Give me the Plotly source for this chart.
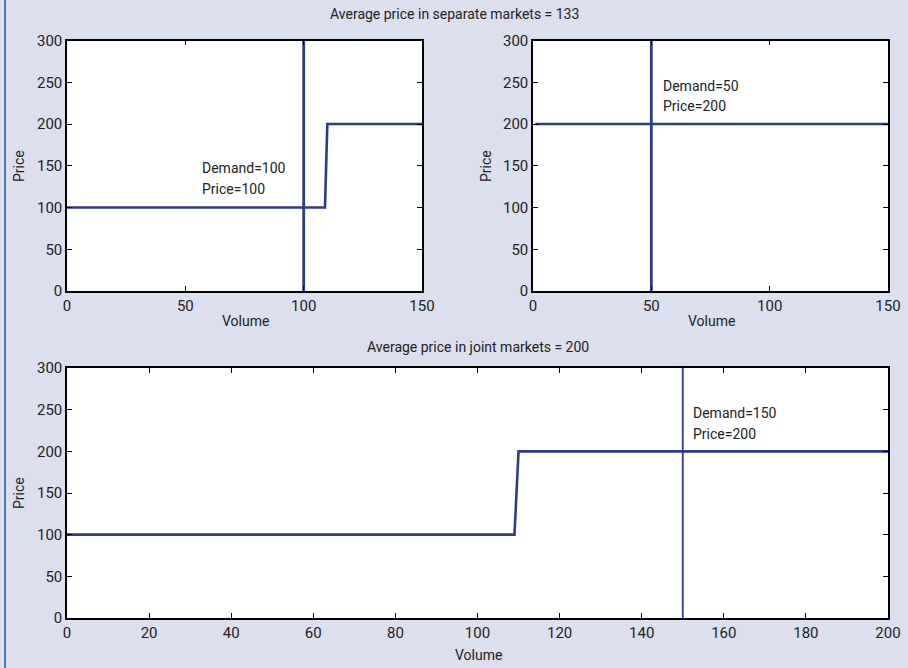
import plotly.graph_objects as go

# ---- data ----
sep1_supply_x = [0, 109, 110, 150]
sep1_supply_y = [100, 100, 200, 200]
sep1_demand = 100
sep1_label = ["Demand=100", "Price=100"]

sep2_supply_x = [1, 150]
sep2_supply_y = [200, 200]
sep2_demand = 50
sep2_label = ["Demand=50", "Price=200"]

joint_supply_x = [0, 109, 110, 200]
joint_supply_y = [100, 100, 200, 200]
joint_demand = 150
joint_label = ["Demand=150", "Price=200"]

price_range = [0, 300]
price_ticks = [0, 50, 100, 150, 200, 250, 300]
sep_vol_ticks = [0, 50, 100, 150]
joint_vol_ticks = [0, 20, 40, 60, 80, 100, 120, 140, 160, 180, 200]

title_sep = "Average price in separate markets = 133"
title_joint = "Average price in joint markets = 200"

# ---- style ----
W, H = 908, 668
LINE = "#2e3a8e"
BG = "#dcdfee"
FONT = "Roboto"
TXT = "#222222"

def px(x):
    return x / W

def py(y):
    return 1 - y / H

fig = go.Figure()

panels = [
    dict(ax="", sx=sep1_supply_x, sy=sep1_supply_y, d=sep1_demand, lab=sep1_label,
         lx=56, ly=(147, 122), xr=[0, 150], xt=sep_vol_ticks,
         dom_x=[px(67), px(422)], dom_y=[py(291), py(40.5)], vw=2.8),
    dict(ax="2", sx=sep2_supply_x, sy=sep2_supply_y, d=sep2_demand, lab=sep2_label,
         lx=54, ly=(245, 222), xr=[0, 150], xt=sep_vol_ticks,
         dom_x=[px(533), px(888)], dom_y=[py(291), py(40.5)], vw=2.8),
    dict(ax="3", sx=joint_supply_x, sy=joint_supply_y, d=joint_demand, lab=joint_label,
         lx=152, ly=(246, 221), xr=[0, 200], xt=joint_vol_ticks,
         dom_x=[px(67), px(888)], dom_y=[py(618), py(368)], vw=1.8),
]

layout_axes = {}
for p in panels:
    xa = "x" + p["ax"]
    ya = "y" + p["ax"]
    fig.add_trace(go.Scatter(x=p["sx"], y=p["sy"], mode="lines",
                             line=dict(color=LINE, width=2.6),
                             xaxis=xa, yaxis=ya, showlegend=False, hoverinfo="skip",
                             cliponaxis=False))
    fig.add_trace(go.Scatter(x=[p["d"], p["d"]], y=price_range, mode="lines",
                             line=dict(color=LINE, width=p["vw"]),
                             xaxis=xa, yaxis=ya, showlegend=False, hoverinfo="skip",
                             cliponaxis=False))
    common = dict(showline=True, mirror="ticks", linecolor="black", linewidth=1.5,
                  ticks="inside", ticklen=5, tickcolor="black", showgrid=False,
                  zeroline=False, automargin=False,
                  tickfont=dict(family=FONT, size=15, color=TXT))
    layout_axes["xaxis" + p["ax"]] = dict(domain=p["dom_x"], range=p["xr"],
                                          tickvals=p["xt"], anchor=ya, **common)
    layout_axes["yaxis" + p["ax"]] = dict(domain=p["dom_y"], range=price_range,
                                          tickvals=price_ticks, anchor=xa, **common)
    for txt, yy in zip(p["lab"], p["ly"]):
        fig.add_annotation(x=p["lx"], y=yy, xref=xa, yref=ya, text=txt,
                           showarrow=False, xanchor="left", yanchor="middle",
                           font=dict(family=FONT, size=14, color=TXT))

fig.update_layout(**layout_axes)

# titles and axis labels
def label(text, x, y, angle=0, size=14):
    fig.add_annotation(x=px(x), y=py(y), xref="paper", yref="paper", text=text,
                       showarrow=False, xanchor="center", yanchor="middle",
                       textangle=angle, font=dict(family=FONT, size=size, color=TXT))

label(title_sep, 454, 14)
label(title_joint, 478, 347)
label("Volume", 245, 321)
label("Volume", 711, 321)
label("Volume", 478, 655)
label("Price", 19, 166, angle=-90)
label("Price", 486, 166, angle=-90)
label("Price", 19, 493, angle=-90)

# left border line
fig.add_shape(type="line", xref="paper", yref="paper", x0=px(5), x1=px(5), y0=0, y1=1,
              line=dict(color="#4a7ab5", width=2))

fig.update_layout(width=W, height=H, margin=dict(l=0, r=0, t=0, b=0, autoexpand=False),
                  paper_bgcolor=BG, plot_bgcolor="white", showlegend=False)

fig.write_html("out.html", config={"displayModeBar": False},
               post_script="document.body.style.margin='0';document.body.style.overflow='hidden';")
